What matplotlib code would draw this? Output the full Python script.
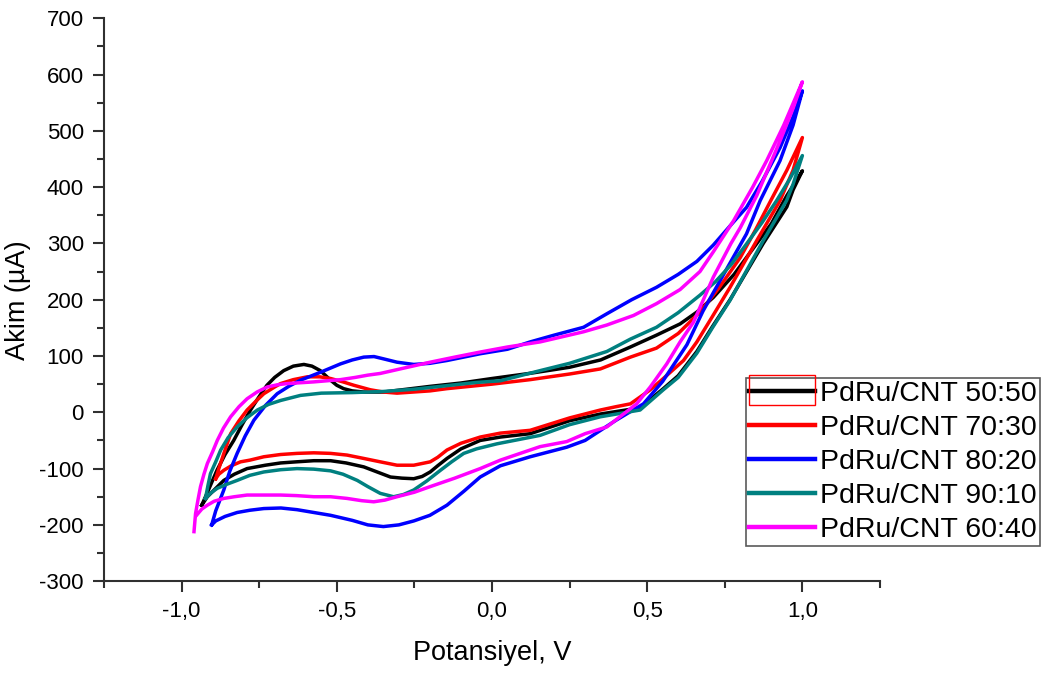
import matplotlib
matplotlib.use("Agg")
import matplotlib.pyplot as plt
from matplotlib.ticker import MultipleLocator, FuncFormatter
from matplotlib.patches import Rectangle

plt.rcParams['font.family'] = ['Liberation Sans', 'DejaVu Sans']

# cyclic voltammograms: forward sweep then reverse sweep
v_5050 = [-0.935, -0.915, -0.886, -0.86, -0.832, -0.805, -0.778, -0.75, -0.725, -0.70, -0.671, -0.64, -0.606,
          -0.58, -0.553, -0.52, -0.50, -0.478, -0.45, -0.413, -0.349, -0.2, -0.1, 0.0, 0.12, 0.25, 0.35, 0.446,
          0.53, 0.606, 0.66, 0.713, 0.78, 0.84, 0.9, 0.95, 1.0,
          0.97, 0.95, 0.874, 0.767, 0.71, 0.66, 0.6, 0.552, 0.477, 0.35, 0.25, 0.123, 0.027, -0.038,
          -0.1, -0.145, -0.175, -0.199, -0.225, -0.252, -0.29, -0.327, -0.37, -0.413, -0.47, -0.52, -0.574,
          -0.63, -0.681, -0.73, -0.789, -0.83, -0.864, -0.895, -0.917, -0.935]
i_5050 = [-165, -140, -103, -75, -50, -22, 4, 28, 48, 62, 74, 82, 85,
          82, 74, 57, 48, 42, 38, 36, 36, 46, 52, 60, 69, 80, 93, 116,
          137, 157, 178, 204, 245, 290, 335, 385, 429,
          395, 365, 300, 200, 152, 108, 65, 42, 8, -3, -15, -38, -44, -50,
          -65, -82, -95, -106, -114, -118, -117, -115, -106, -97, -90, -86, -86,
          -88, -90, -94, -100, -110, -121, -138, -150, -165]

v_7030 = [-0.89, -0.88, -0.865, -0.842, -0.815, -0.789, -0.76, -0.735, -0.70, -0.681, -0.64, -0.595, -0.555,
          -0.52, -0.48, -0.445, -0.392, -0.35, -0.306, -0.2, -0.145, 0.0, 0.123, 0.25, 0.349, 0.446, 0.53,
          0.6, 0.67, 0.73, 0.8, 0.85, 0.9, 0.95, 1.0,
          0.97, 0.928, 0.853, 0.767, 0.71, 0.66, 0.617, 0.552, 0.51, 0.446, 0.4, 0.349, 0.25, 0.123, 0.027,
          -0.038, -0.1, -0.145, -0.175, -0.199, -0.252, -0.306, -0.36, -0.413, -0.467, -0.52, -0.574, -0.628,
          -0.681, -0.735, -0.78, -0.81, -0.84, -0.864, -0.88, -0.89]
i_7030 = [-118, -100, -75, -38, -15, 4, 20, 33, 45, 51, 58, 63, 63,
          60, 54, 48, 40, 36, 34, 38, 42, 50, 58, 68, 77, 98, 114,
          140, 178, 220, 275, 325, 378, 430, 488,
          430, 376, 305, 222, 170, 125, 92, 60, 40, 15, 10, 4, -10, -32, -37,
          -44, -55, -67, -80, -88, -94, -94, -88, -82, -76, -73, -72, -73,
          -75, -79, -85, -88, -95, -103, -110, -118]

v_8020 = [-0.903, -0.89, -0.864, -0.845, -0.821, -0.795, -0.767, -0.73, -0.692, -0.655, -0.617, -0.553,
          -0.488, -0.45, -0.413, -0.38, -0.35, -0.306, -0.252, -0.2, -0.145, -0.038, 0.05, 0.123, 0.2,
          0.295, 0.37, 0.45, 0.53, 0.6, 0.66, 0.713, 0.77, 0.82, 0.87, 0.928, 0.97, 1.0,
          0.97, 0.928, 0.864, 0.82, 0.735, 0.68, 0.628, 0.55, 0.488, 0.40, 0.3, 0.241, 0.123, 0.027,
          -0.038, -0.09, -0.145, -0.2, -0.252, -0.3, -0.35, -0.40, -0.45, -0.52, -0.574, -0.628, -0.68,
          -0.735, -0.78, -0.821, -0.86, -0.89, -0.903]
i_8020 = [-200, -175, -138, -105, -73, -42, -14, 12, 33, 46, 57, 71,
          86, 93, 98, 99, 95, 89, 85, 87, 92, 104, 112, 125, 137,
          151, 175, 200, 222, 245, 268, 297, 333, 364, 410, 470, 525, 571,
          510, 447, 376, 317, 234, 180, 120, 55, 15, -14, -50, -62, -79, -95,
          -115, -140, -165, -183, -193, -200, -203, -200, -192, -183, -178, -173, -170,
          -171, -174, -178, -185, -193, -200]

v_9010 = [-0.923, -0.915, -0.907, -0.89, -0.874, -0.85, -0.821, -0.79, -0.756, -0.72, -0.681, -0.617,
          -0.55, -0.45, -0.35, -0.25, -0.15, -0.05, 0.027, 0.155, 0.25, 0.37, 0.446, 0.53, 0.6, 0.67,
          0.72, 0.77, 0.82, 0.87, 0.917, 0.96, 1.0,
          0.97, 0.949, 0.874, 0.767, 0.71, 0.66, 0.6, 0.552, 0.477, 0.349, 0.25, 0.155, 0.016,
          -0.05, -0.091, -0.13, -0.166, -0.21, -0.252, -0.285, -0.317, -0.36, -0.4, -0.434, -0.48, -0.52,
          -0.574, -0.628, -0.681, -0.735, -0.78, -0.821, -0.855, -0.885, -0.905, -0.923]
i_9010 = [-153, -130, -109, -88, -67, -45, -26, -10, 4, 14, 21, 30,
          34, 35, 37, 41, 47, 53, 56, 74, 87, 108, 130, 151, 177, 208,
          232, 262, 299, 337, 376, 415, 456,
          405, 376, 305, 199, 150, 105, 62, 40, 4, -8, -22, -41, -56,
          -65, -73, -88, -103, -122, -138, -146, -150, -144, -132, -121, -110, -104,
          -101, -100, -102, -106, -112, -121, -128, -135, -143, -153]

v_6040 = [-0.96, -0.955, -0.947, -0.939, -0.928, -0.917, -0.9, -0.885, -0.865, -0.842, -0.815, -0.789,
          -0.757, -0.724, -0.69, -0.66, -0.574, -0.488, -0.44, -0.40, -0.36, -0.28, -0.199, -0.12, -0.038,
          0.05, 0.155, 0.295, 0.37, 0.456, 0.53, 0.606, 0.67, 0.713, 0.778, 0.84, 0.885, 0.94, 1.0,
          0.97, 0.928, 0.853, 0.80, 0.77, 0.713, 0.649, 0.606, 0.563, 0.51, 0.466, 0.37, 0.3, 0.241, 0.155,
          0.027, -0.038, -0.12, -0.199, -0.25, -0.306, -0.345, -0.381, -0.42, -0.467, -0.52, -0.574,
          -0.63, -0.681, -0.735, -0.789, -0.83, -0.864, -0.895, -0.917, -0.935, -0.952]
i_6040 = [-212, -180, -155, -132, -110, -91, -70, -50, -28, -8, 10, 24,
          36, 45, 49, 51, 54, 58, 62, 66, 69, 79, 89, 98, 107,
          116, 125, 143, 155, 172, 193, 218, 250, 285, 340, 400, 447, 510, 587,
          540, 482, 385, 328, 300, 240, 160, 125, 86, 45, 15, -26, -38, -52, -61,
          -85, -100, -117, -132, -142, -150, -156, -159, -157, -153, -150, -150,
          -148, -147, -147, -147, -150, -153, -158, -165, -172, -183]

labels = ['PdRu/CNT 50:50', 'PdRu/CNT 70:30', 'PdRu/CNT 80:20', 'PdRu/CNT 90:10', 'PdRu/CNT 60:40']
colors = ['#000000', '#ff0000', '#0000ff', '#008080', '#ff00ff']
series = [(v_5050, i_5050), (v_7030, i_7030), (v_8020, i_8020), (v_9010, i_9010), (v_6040, i_6040)]

fig = plt.figure(figsize=(10.43, 6.75), dpi=100)
ax = fig.add_axes([0.0997, 0.139, 0.7440, 0.834])

for (v, i), c, lab in zip(series, colors, labels):
    ax.plot(v, i, color=c, lw=2.5, label=lab, solid_joinstyle='round')

ax.set_xlim(-1.25, 1.25)
ax.set_ylim(-300, 700)
ax.xaxis.set_major_locator(MultipleLocator(0.5))
ax.xaxis.set_minor_locator(MultipleLocator(0.25))
ax.yaxis.set_major_locator(MultipleLocator(100))
ax.yaxis.set_minor_locator(MultipleLocator(50))
ax.xaxis.set_major_formatter(FuncFormatter(lambda x, p: ('%.1f' % x).replace('.', ',')))
ax.yaxis.set_major_formatter(FuncFormatter(lambda y, p: '%d' % y))

for s in ['top', 'right']:
    ax.spines[s].set_visible(False)
for s in ['left', 'bottom']:
    ax.spines[s].set_color('#303030')
    ax.spines[s].set_linewidth(1.5)
ax.tick_params(which='major', direction='out', length=8, width=1.5, color='#303030',
               labelsize=16, pad=6.5)
ax.tick_params(which='minor', direction='out', length=5, width=1.5, color='#303030')

ax.set_xlabel('Potansiyel, V', fontsize=19.5, labelpad=13)
ax.set_ylabel('Akim (µA)', fontsize=19.5, labelpad=6)

leg = ax.legend(loc='upper right', bbox_to_anchor=(0.997, 0.44), bbox_transform=fig.transFigure,
                fontsize=20.5, frameon=True, fancybox=False, borderaxespad=0, borderpad=0.1,
                labelspacing=0.28, handlelength=2.3, handletextpad=0.2)
leg.get_frame().set_edgecolor('#303030')
leg.get_frame().set_linewidth(1.2)
for h in leg.legend_handles:
    h.set_linewidth(3.2)

# red selection box round the first legend key
fig.canvas.draw()
bb = leg.legend_handles[0].get_window_extent(fig.canvas.get_renderer())
fig.patches.append(Rectangle((bb.x0, bb.y0 - 14), bb.width, 30, fill=False, edgecolor='#ff0000',
                             lw=1.0, transform=None))

fig.savefig('out.png', dpi=100)
plt.close()
